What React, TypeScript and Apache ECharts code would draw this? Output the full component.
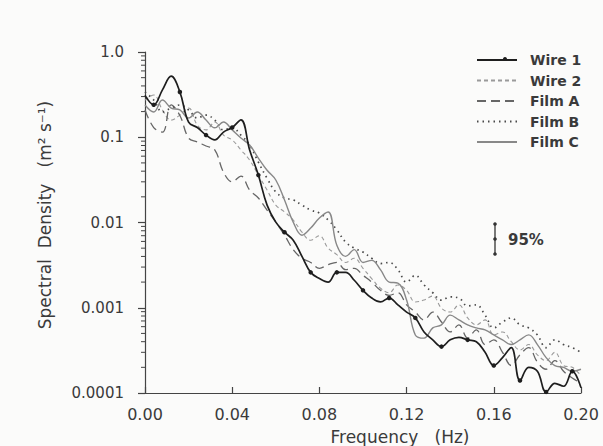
import React, { useEffect, useRef } from "react";
import * as echarts from "echarts";

const freq = [
  0, 0.004, 0.008, 0.012, 0.016, 0.02, 0.024, 0.028, 0.032, 0.036,
  0.04, 0.044, 0.048, 0.052, 0.056, 0.06, 0.064, 0.068, 0.072, 0.076,
  0.08, 0.084, 0.088, 0.092, 0.096, 0.1, 0.104, 0.108, 0.112, 0.116,
  0.12, 0.124, 0.128, 0.132, 0.136, 0.14, 0.144, 0.148, 0.152, 0.156,
  0.16, 0.164, 0.168, 0.172, 0.176, 0.18, 0.184, 0.188, 0.192, 0.196, 0.2,
];

const wire1 = [
  0.31, 0.24, 0.36, 0.52, 0.34, 0.15, 0.13, 0.106, 0.093, 0.115,
  0.13, 0.16, 0.071, 0.036, 0.016, 0.0101, 0.0077, 0.0062, 0.004, 0.0026,
  0.0022, 0.002, 0.0026, 0.0026, 0.0021, 0.0016, 0.0013, 0.00117, 0.0013, 0.00108,
  0.00089, 0.00076, 0.00052, 0.00042, 0.00035, 0.00042, 0.00045, 0.00042, 0.0004, 0.0003,
  0.00021, 0.00026, 0.00034, 0.00014, 0.0002, 0.00018, 0.000103, 0.00013, 0.00012, 0.00018, 0.000115,
];

const wire2 = [
  0.273, 0.313, 0.209, 0.159, 0.182, 0.22, 0.139, 0.122, 0.151, 0.106,
  0.093, 0.071, 0.054, 0.036, 0.024, 0.016, 0.0133, 0.0107, 0.0077, 0.0062,
  0.007, 0.005, 0.0042, 0.0034, 0.0038, 0.0029, 0.0022, 0.0017, 0.0015, 0.00185,
  0.0016, 0.00117, 0.00123, 0.00137, 0.00099, 0.00089, 0.00108, 0.00076, 0.00063, 0.00072,
  0.00048, 0.00052, 0.0004, 0.00032, 0.00037, 0.00028, 0.00024, 0.0003, 0.00021, 0.0002, 0.00016,
];

const filmA = [
  0.209, 0.13, 0.115, 0.24, 0.18, 0.098, 0.088, 0.079, 0.071, 0.039,
  0.03, 0.035, 0.024, 0.0194, 0.014, 0.0101, 0.0071, 0.0048, 0.0038, 0.0034,
  0.0029, 0.0032, 0.0034, 0.0028, 0.0029, 0.0024, 0.002, 0.0016, 0.0014, 0.0015,
  0.00108, 0.00089, 0.00072, 0.00089, 0.00068, 0.00052, 0.00063, 0.00044, 0.00055, 0.00037,
  0.00042, 0.0003, 0.00021, 0.00028, 0.00034, 0.00023, 0.00019, 0.00024, 0.00018, 0.00015, 0.00013,
];

const filmB = [
  0.34, 0.273, 0.198, 0.22, 0.239, 0.209, 0.168, 0.182, 0.159, 0.122,
  0.129, 0.106, 0.081, 0.051, 0.033, 0.0228, 0.0194, 0.0184, 0.016, 0.014,
  0.0129, 0.0107, 0.0082, 0.0059, 0.005, 0.0045, 0.0038, 0.0033, 0.0034, 0.0028,
  0.002, 0.0024, 0.00185, 0.0015, 0.00123, 0.00134, 0.0013, 0.00105, 0.00108, 0.00082,
  0.00058, 0.00068, 0.00076, 0.00063, 0.00058, 0.00048, 0.00034, 0.00042, 0.00037, 0.00034, 0.0003,
];

const filmC = [
  0.239, 0.198, 0.273, 0.22, 0.209, 0.168, 0.198, 0.159, 0.129, 0.151,
  0.122, 0.098, 0.081, 0.057, 0.041, 0.0315, 0.0184, 0.0101, 0.0071, 0.0086,
  0.0113, 0.0133, 0.0054, 0.004, 0.0048, 0.0034, 0.0036, 0.0028, 0.002, 0.00195,
  0.00123, 0.00048, 0.00044, 0.00058, 0.00063, 0.00082, 0.00072, 0.00063, 0.00058, 0.00055,
  0.00048, 0.00042, 0.00037, 0.00042, 0.00048, 0.00037, 0.00026, 0.00021, 0.0002, 0.00018, 0.00019,
];

const minorTickValues = [
  0.0002, 0.0003, 0.0004, 0.0005, 0.0006, 0.0007, 0.0008, 0.0009,
  0.002, 0.003, 0.004, 0.005, 0.006, 0.007, 0.008, 0.009,
  0.02, 0.03, 0.04, 0.05, 0.06, 0.07, 0.08, 0.09,
  0.2, 0.3, 0.4, 0.5, 0.6, 0.7, 0.8, 0.9,
];

const seriesNames = ["Wire 1", "Wire 2", "Film A", "Film B", "Film C"];

const FONT = "DejaVu Sans";
const TXT = "#3a3a3a";

export default function App() {
  const ref = useRef<HTMLDivElement>(null);
  useEffect(() => {
    if (!ref.current) return;
    const chart = echarts.init(ref.current, null, { renderer: "svg" });
    const toPairs = (vals: number[]) => freq.map((f, i) => [f, vals[i]]);
    const option: any = {
      animation: false,
      backgroundColor: "#fbfbfa",
      grid: { left: 145, right: 22, top: 52, bottom: 53, containLabel: false },
      legend: {
        data: seriesNames.map((n) => ({
          name: n,
          itemStyle: { opacity: 0, borderWidth: 0 },
        })),
        orient: "vertical",
        left: 471,
        top: 48,
        itemWidth: 40,
        itemHeight: 10,
        itemGap: 6.5,
        selectedMode: false,
        textStyle: {
          fontFamily: FONT,
          fontSize: 14,
          lineHeight: 14,
          fontWeight: "bold",
          color: TXT,
          padding: [0, 0, 0, 8],
        },
      },
      xAxis: {
        type: "value",
        min: 0,
        max: 0.2,
        interval: 0.04,
        axisLine: { onZero: false, lineStyle: { color: "#444", width: 1.2 } },
        axisTick: { inside: true, length: 6, lineStyle: { color: "#444", width: 1.2 } },
        splitLine: { show: false },
        axisLabel: {
          margin: 13,
          fontFamily: FONT,
          fontSize: 16,
          color: TXT,
          formatter: (v: number) => v.toFixed(2),
        },
      },
      yAxis: {
        type: "log",
        logBase: 10,
        min: 0.0001,
        max: 1,
        axisLine: { lineStyle: { color: "#444", width: 1.2 } },
        axisTick: { inside: false, length: 7, lineStyle: { color: "#444", width: 1.2 } },
        splitLine: { show: false },
        axisLabel: {
          margin: 21,
          fontFamily: FONT,
          fontSize: 15,
          color: TXT,
          formatter: (v: number) => {
            const e = Math.round(Math.log10(v));
            return e === 0 ? "1.0" : Math.pow(10, e).toFixed(-e);
          },
        },
      },
      graphic: [
        {
          type: "text",
          x: 400,
          y: 437,
          style: {
            text: "Frequency   (Hz)",
            font: `17px ${FONT}`,
            fill: TXT,
            align: "center",
            verticalAlign: "middle",
          },
        },
        {
          type: "text",
          x: 45,
          y: 215,
          rotation: Math.PI / 2,
          style: {
            text: "Spectral  Density   (m² s⁻¹)",
            font: `17px ${FONT}`,
            fill: TXT,
            align: "center",
            verticalAlign: "middle",
          },
        },
        { type: "circle", shape: { cx: 505, cy: 59, r: 2 }, style: { fill: "#1e1e1e" } },
        {
          type: "line",
          shape: { x1: 495, y1: 224, x2: 495, y2: 254 },
          style: { stroke: "#333", lineWidth: 1.3 },
        },
        { type: "circle", shape: { cx: 495, cy: 224, r: 1.8 }, style: { fill: "#333" } },
        { type: "circle", shape: { cx: 495, cy: 239, r: 1.8 }, style: { fill: "#333" } },
        { type: "circle", shape: { cx: 495, cy: 254, r: 1.8 }, style: { fill: "#333" } },
        {
          type: "text",
          x: 508,
          y: 240,
          style: {
            text: "95%",
            font: `bold 15px ${FONT}`,
            fill: TXT,
            align: "left",
            verticalAlign: "middle",
          },
        },
      ],
      series: [
        {
          name: "Wire 1",
          type: "line",
          data: toPairs(wire1),
          smooth: 0.4,
          symbol: "circle",
          showSymbol: true,
          symbolSize: (_v: any, p: any) => (p && p.dataIndex % 3 === 1 ? 4.5 : 0),
          itemStyle: { color: "#1e1e1e" },
          lineStyle: { color: "#1e1e1e", width: 1.7, type: "solid" },
          z: 5,
        },
        {
          name: "Wire 2",
          type: "line",
          data: toPairs(wire2),
          smooth: 0.4,
          showSymbol: false,
          symbol: "none",
          itemStyle: { color: "#9a9a9a" },
          lineStyle: { color: "#9a9a9a", width: 1.1, type: [4, 3] },
        },
        {
          name: "Film A",
          type: "line",
          data: toPairs(filmA),
          smooth: 0.4,
          showSymbol: false,
          symbol: "none",
          itemStyle: { color: "#666" },
          lineStyle: { color: "#666", width: 1.3, type: [9, 5] },
        },
        {
          name: "Film B",
          type: "line",
          data: toPairs(filmB),
          smooth: 0.4,
          showSymbol: false,
          symbol: "none",
          itemStyle: { color: "#4a4a4a" },
          lineStyle: { color: "#4a4a4a", width: 1.7, type: [1.5, 4] },
        },
        {
          name: "Film C",
          type: "line",
          data: toPairs(filmC),
          smooth: 0.4,
          showSymbol: false,
          symbol: "none",
          itemStyle: { color: "#888" },
          lineStyle: { color: "#888", width: 1.4, type: "solid" },
        },
        {
          name: "minorTicks",
          type: "custom",
          silent: true,
          clip: false,
          data: minorTickValues.map((v) => [0, v]),
          renderItem: (_params: any, api: any) => {
            const p = api.coord([0, api.value(1)]);
            return {
              type: "line",
              shape: { x1: p[0] - 4, y1: p[1], x2: p[0], y2: p[1] },
              style: { stroke: "#444", lineWidth: 1 },
            };
          },
        },
      ],
    };
    chart.setOption(option);
    return () => chart.dispose();
  }, []);
  return (
    <div
      ref={ref}
      style={{ position: "fixed", left: 0, top: 0, width: 603, height: 446 }}
    />
  );
}
